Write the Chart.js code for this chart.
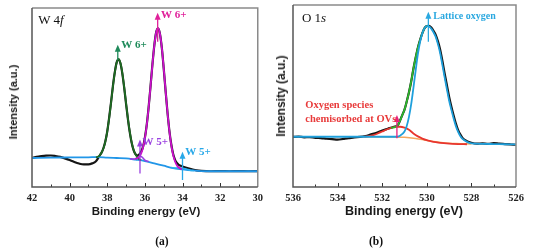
<!DOCTYPE html>
<html>
<head>
<meta charset="utf-8">
<script src="https://cdn.jsdelivr.net/npm/chart.js@4/dist/chart.umd.min.js"></script>
<style>
  html, body { margin: 0; padding: 0; background: #fff; }
  #wrap { position: relative; width: 536px; height: 252px; overflow: hidden; }
  canvas { position: absolute; top: 0; }
  .t { position: absolute; white-space: nowrap; transform: translate(-50%, -50%); }
  .ax { font-family: "Liberation Sans", Arial, sans-serif; font-weight: bold; color: #1a1a1a; }
  .rot { transform: translate(-50%, -50%) rotate(-90deg); }
  .ser { font-family: "Liberation Serif", "Times New Roman", serif; color: #111; }
</style>
</head>
<body>
<div id="wrap">
  <canvas id="cW" width="268" height="252" style="left:0px"></canvas>
  <canvas id="cO" width="268" height="252" style="left:268px"></canvas>
  <div class="t ser" style="left:51px; top:20px; font-size:13px;">W 4<i>f</i></div>
  <div class="t ser" style="left:314px; top:18px; font-size:13px;">O 1<i>s</i></div>
  <div class="t ax" style="left:146px; top:211px; font-size:11.5px;">Binding energy (eV)</div>
  <div class="t ax" style="left:404px; top:211px; font-size:12.5px;">Binding energy (eV)</div>
  <div class="t ax rot" style="left:13px; top:102px; font-size:11px;">Intensity (a.u.)</div>
  <div class="t ax rot" style="left:281px; top:96px; font-size:12px;">Intensity (a.u.)</div>
  <div class="t ser" style="left:162px; top:241px; font-size:11.5px; font-weight:bold;">(a)</div>
  <div class="t ser" style="left:376px; top:241px; font-size:11.5px; font-weight:bold;">(b)</div>
</div>
<script>
// ---------------- W 4f panel data ----------------
const W_TICKS = [42, 40, 38, 36, 34, 32, 30];
const W_RAW_E = [42.0,41.75,41.5,41.25,41.0,40.75,40.5,40.25,40.0,39.75,39.5,39.25,39.0,38.8,38.6,38.5,38.4,38.3,38.2,38.1,38.0,37.9,37.8,37.7,37.6,37.5,37.4,37.3,37.2,37.1,37.0,36.9,36.8,36.7,36.6,36.5,36.4,36.3,36.2,36.1,36.0,35.9,35.8,35.7,35.6,35.5,35.4,35.3,35.2,35.1,35.0,34.9,34.8,34.7,34.6,34.5,34.4,34.3,34.2,34.0,33.75,33.5,33.25,33.0,32.5,32.0,31.5,31.0,30.5,30.0];
const W_RAW_I = [16.2,16.8,17.2,17.5,17.6,17.3,16.8,16.0,15.1,14.0,13.1,12.6,12.6,13.2,14.4,15.8,17.6,19.3,21.8,25.6,31.0,38.6,47.2,56.3,64.0,69.6,71.3,69.1,63.5,55.5,46.5,37.8,30.4,24.6,20.6,18.3,17.6,18.2,19.8,22.4,27.5,34.8,44.6,56.2,68.3,79.0,86.4,88.6,85.6,77.8,66.4,53.8,41.9,31.7,24.0,18.6,15.3,13.4,12.4,11.5,10.6,9.9,9.3,9.0,8.8,8.9,8.8,8.9,8.8,8.9];
const W_BG_E = [42,41,40,39,38.5,38,37.5,37,36.5,36,35.5,35,34.5,34,33.5,33,32,31,30];
const W_BG_I = [16.2,16.4,16.5,16.6,16.7,16.4,16.2,16.0,15.3,14.5,13.2,11.9,10.6,9.9,9.3,8.9,8.8,8.8,8.8];
const W_P1_E = [38.6,38.5,38.4,38.3,38.2,38.1,38.0,37.9,37.8,37.7,37.6,37.5,37.4,37.3,37.2,37.1,37.0,36.9,36.8,36.7,36.6,36.5,36.4,36.3,36.2];
const W_P1_I = [16.6,16.9,17.7,19.2,21.6,25.5,31.1,38.4,47.0,56.0,63.9,69.4,71.4,69.3,63.8,55.8,46.7,38.0,30.6,24.8,20.8,18.2,16.6,15.6,14.9];
const W_P2_E = [36.5,36.4,36.3,36.2,36.1,36.0,35.9,35.8,35.7,35.6,35.5,35.4,35.3,35.2,35.1,35.0,34.9,34.8,34.7,34.6,34.5,34.4,34.3,34.2,34.1,34.0];
const W_P2_I = [15.6,16.1,16.9,18.7,21.9,27.2,34.6,44.4,56.0,68.1,78.9,86.3,88.7,85.7,77.9,66.6,53.9,41.9,31.5,23.6,18.0,14.4,12.2,10.9,10.3,9.9];
const W_P3_E = [36.8,36.6,36.5,36.4,36.3,36.2,36.1,36.0,35.8];
const W_P3_I = [15.8,15.6,15.8,16.5,17.1,17.0,16.2,15.0,14.2];
const W_P4_E = [34.6,34.4,34.2,34.0,33.8,33.6,33.4];
const W_P4_I = [10.9,10.6,10.6,10.5,10.0,9.4,9.1];

// ---------------- O 1s panel data ----------------
const O_TICKS = [536, 534, 532, 530, 528, 526];
const O_RAW_E = [536.0,535.75,535.5,535.25,535.0,534.75,534.5,534.25,534.0,533.75,533.5,533.25,533.0,532.75,532.5,532.25,532.0,531.75,531.5,531.3,531.2,531.1,531.0,530.9,530.8,530.7,530.6,530.5,530.4,530.3,530.2,530.1,530.0,529.9,529.8,529.7,529.6,529.5,529.4,529.3,529.2,529.1,529.0,528.9,528.8,528.7,528.6,528.5,528.4,528.2,528.0,527.75,527.5,527.25,527.0,526.75,526.5,526.25,526.0];
const O_RAW_I = [27.5,27.7,27.3,27.4,27.0,26.9,26.5,26.3,26.0,26.4,26.8,27.3,27.5,28.0,28.9,29.8,31.0,32.0,33.0,34.0,36.5,39.5,42.5,47.0,52.0,58.0,65.0,71.0,76.5,80.8,84.5,87.3,88.4,88.6,87.6,85.8,83.6,80.0,75.4,69.2,62.4,56.0,49.6,44.2,39.4,35.0,31.4,28.9,27.0,25.2,24.3,23.8,24.0,23.7,24.1,23.8,23.6,23.4,23.2];
const O_BG_E = [532.8,531.4,531.0,530.5,530.0,529.5,529.0,528.5,528.0];
const O_BG_I = [27.6,27.5,27.3,26.6,25.6,24.7,24.0,23.8,23.6];
const O_OV_E = [532.8,532.6,532.4,532.2,532.0,531.8,531.6,531.4,531.2,531.0,530.8,530.6,530.4,530.2,530.0,529.8,529.6,529.4,529.0,528.6,528.2];
const O_OV_I = [27.6,27.9,28.5,29.4,30.5,31.6,32.5,33.0,33.1,32.6,31.5,29.4,27.8,26.6,25.7,25.1,24.6,24.2,23.8,23.6,23.5];
const O_ENV_E = [531.6,531.4,531.3,531.2,531.1,531.0,530.9,530.8,530.7,530.6,530.5,530.4,530.3,530.2,530.1,530.0,529.9];
const O_ENV_I = [32.5,33.0,34.0,36.5,39.5,42.5,47.0,52.0,58.0,65.0,71.0,76.5,80.8,84.5,87.3,88.4,88.3];
const O_LAT_E = [536,534,532,531.4,531.2,531.0,530.9,530.8,530.7,530.6,530.5,530.4,530.3,530.2,530.1,530.0,529.9,529.8,529.7,529.6,529.5,529.4,529.3,529.2,529.1,529.0,528.9,528.8,528.7,528.6,528.5,528.4,528.2,528.0,527.5,527.0,526.5,526.0];
const O_LAT_I = [27.6,27.6,27.6,27.6,28.2,30.5,33.5,38.5,45.5,54.5,64.0,73.0,79.8,84.5,87.3,88.4,88.3,87.0,85.0,82.5,78.5,73.5,67.0,60.2,53.8,47.5,42.5,37.8,33.6,30.4,28.0,26.4,24.8,24.0,23.7,23.6,23.5,23.4];

function pts(E, I) { return E.map((e, i) => ({ x: e, y: I[i] })); }
// order: higher numbers are drawn first (underneath)
function ds(E, I, color, width, order) {
  return { data: pts(E, I), borderColor: color, borderWidth: width, pointRadius: 0, order: order,
           cubicInterpolationMode: 'monotone', fill: false };
}

const framePlugin = {
  id: 'frame',
  afterDatasetsDraw(chart, args, opts) {
    const ctx = chart.ctx, a = chart.chartArea, xs = chart.scales.x, ys = chart.scales.y;
    ctx.save();
    ctx.strokeStyle = '#333'; ctx.lineWidth = 1;
    for (let v = xs.min + 1; v < xs.max; v += 1) {
      const px = Math.round(xs.getPixelForValue(v)) + 0.5;
      const len = ((v - xs.min) % 2 === 0) ? 4 : 2.5;
      ctx.beginPath(); ctx.moveTo(px, a.bottom); ctx.lineTo(px, a.bottom - len); ctx.stroke();
    }
    ctx.lineWidth = 1.5;
    ctx.strokeStyle = '#8a8a8a';
    ctx.beginPath(); ctx.moveTo(a.left, a.top); ctx.lineTo(a.right, a.top); ctx.lineTo(a.right, a.bottom); ctx.stroke();
    ctx.strokeStyle = '#555';
    ctx.beginPath(); ctx.moveTo(a.left, a.top); ctx.lineTo(a.left, a.bottom); ctx.lineTo(a.right, a.bottom); ctx.stroke();
    (opts.notes || []).forEach(n => {
      const x = xs.getPixelForValue(n.e);
      const y1 = ys.getPixelForValue(n.from), y2 = ys.getPixelForValue(n.to);
      ctx.strokeStyle = n.color; ctx.fillStyle = n.color; ctx.lineWidth = 1.3;
      ctx.beginPath(); ctx.moveTo(x, y1); ctx.lineTo(x, y2 + 5); ctx.stroke();
      ctx.beginPath(); ctx.moveTo(x, y2); ctx.lineTo(x - 3, y2 + 7); ctx.lineTo(x + 3, y2 + 7); ctx.closePath(); ctx.fill();
      ctx.fillStyle = n.tcolor || n.color;
      ctx.font = 'bold ' + n.size + 'px "Liberation Serif", "Times New Roman", serif';
      ctx.textAlign = 'left'; ctx.textBaseline = 'middle';
      n.lines.forEach(l => ctx.fillText(l.text, xs.getPixelForValue(l.e), ys.getPixelForValue(l.i)));
    });
    ctx.restore();
  }
};

function makeChart(id, datasets, xmin, xmax, ticks, pad, notes) {
  return new Chart(document.getElementById(id), {
    type: 'line',
    data: { datasets },
    plugins: [framePlugin],
    options: {
      responsive: false, animation: false, devicePixelRatio: 1,
      layout: { padding: pad },
      plugins: { legend: { display: false }, tooltip: { enabled: false }, frame: { notes } },
      scales: {
        x: {
          type: 'linear', reverse: true, min: xmin, max: xmax,
          afterBuildTicks: (s) => { s.ticks = ticks.map(v => ({ value: v })); },
          afterFit: (s) => { s.height = 65; },
          grid: { display: false, drawTicks: false },
          border: { display: false },
          ticks: { padding: 5, maxRotation: 0, autoSkip: false, color: '#222',
                   font: { family: '"Liberation Serif", "Times New Roman", serif', weight: 'bold', size: 10.5 } }
        },
        y: { display: false, min: 0, max: 100 }
      }
    }
  });
}

makeChart('cW', [
  ds(W_RAW_E, W_RAW_I, '#151515', 2.2, 6),
  ds(W_BG_E, W_BG_I, '#2196e8', 1.8, 5),
  ds(W_P3_E, W_P3_I, '#9b3fe0', 1.6, 3),
  ds(W_P4_E, W_P4_I, '#2ab0f0', 1.6, 4),
  ds(W_P1_E, W_P1_I, '#1e6b22', 1.8, 2),
  ds(W_P2_E, W_P2_I, '#cc10cc', 1.8, 1)
], 30, 42, W_TICKS, { left: 32, right: 9, top: 8, bottom: 0 }, [
  { e: 37.44, from: 70.9, to: 79.5, color: '#1f8a5a', size: 11, lines: [{ text: 'W 6+', e: 37.25, i: 79.3 }] },
  { e: 35.32, from: 81.2, to: 97.4, color: '#e0209a', size: 11, lines: [{ text: 'W 6+', e: 35.14, i: 96.1 }] },
  { e: 36.26, from: 7.6, to: 26.6, color: '#9a40e0', size: 11, lines: [{ text: 'W 5+', e: 36.12, i: 25.3 }] },
  { e: 34.0, from: 3.9, to: 19.7, color: '#28a8e8', size: 11, lines: [{ text: 'W 5+', e: 33.86, i: 19.7 }] }
]);

makeChart('cO', [
  ds(O_RAW_E, O_RAW_I, '#151515', 2.2, 5),
  ds(O_BG_E, O_BG_I, '#f4a860', 1.5, 4),
  ds(O_OV_E, O_OV_I, '#e8352e', 1.8, 3),
  ds(O_ENV_E, O_ENV_I, '#2db52d', 1.8, 2),
  ds(O_LAT_E, O_LAT_I, '#1fa0dc', 1.8, 1)
], 526, 536, O_TICKS, { left: 25, right: 20, top: 5, bottom: 0 }, [
  { e: 529.93, from: 79.8, to: 96.3, color: '#2aa8e0', size: 10, lines: [{ text: 'Lattice oxygen', e: 529.71, i: 93.6 }] },
  { e: 531.34, from: 26.8, to: 39.6, color: '#e8207a', tcolor: '#e83a3a', size: 10.5,
    lines: [{ text: 'Oxygen species', e: 535.45, i: 45.1 }, { text: 'chemisorbed at OVs', e: 535.45, i: 37.2 }] }
]);
</script>
</body>
</html>
